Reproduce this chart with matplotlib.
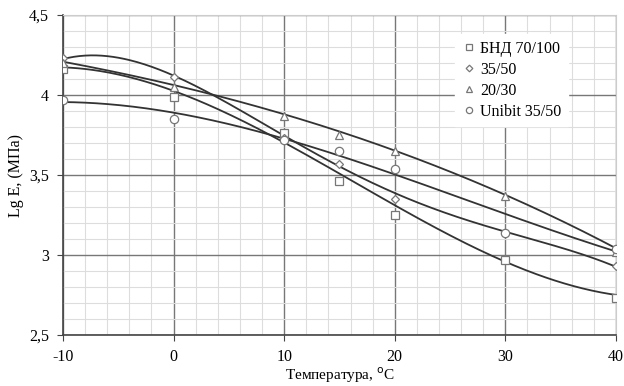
import numpy as np
import matplotlib
matplotlib.use("Agg")
from matplotlib import pyplot as plt
from matplotlib.ticker import MultipleLocator, FuncFormatter

plt.rcParams['font.family'] = ['Liberation Serif', 'DejaVu Serif']
plt.rcParams['axes.unicode_minus'] = False

# measured points
temps = [-10, 0, 10, 15, 20, 30, 40]
bnd_70_100 = [4.16, 3.99, 3.76, 3.46, 3.25, 2.97, 2.73]
b_35_50 = [4.23, 4.11, 3.73, 3.57, 3.35, 3.14, 2.93]
b_20_30 = [4.20, 4.05, 3.87, 3.75, 3.65, 3.37, 3.02]
unibit_35_50 = [3.97, 3.85, 3.72, 3.65, 3.54, 3.14, 3.04]

# trend lines
trend_temps = [-10, -5, 0, 10, 15, 20, 30, 40]
trend_bnd_70_100 = [4.16, 4.14, 4.04, 3.71, 3.48, 3.30, 2.99, 2.74]
trend_35_50 = [4.22, 4.24, 4.13, 3.72, 3.55, 3.42, 3.13, 2.93]
trend_20_30 = [4.20, 4.15, 4.07, 3.875, 3.75, 3.67, 3.38, 3.04]
trend_unibit_35_50 = [3.97, 3.93, 3.87, 3.71, 3.645, 3.55, 3.20, 3.04]
trend_order = [3, 4, 3, 3]

series = [
    ("БНД 70/100", bnd_70_100, trend_bnd_70_100, "s", 6),
    ("35/50", b_35_50, trend_35_50, "D", 4.5),
    ("20/30", b_20_30, trend_20_30, "^", 6),
    ("Unibit 35/50", unibit_35_50, trend_unibit_35_50, "o", 6),
]

fig = plt.figure(figsize=(6.24, 3.86), dpi=100)
ax = fig.add_axes([0.101, 0.132, 0.886, 0.829])

xs = np.linspace(-10, 40, 300)
for (name, vals, trend, marker, ms), order in zip(series, trend_order):
    coef = np.polyfit(trend_temps, trend, order)
    ax.plot(xs, np.polyval(coef, xs), color="#333333", lw=1.3, zorder=3)
    ax.plot(temps, vals, linestyle="none", marker=marker, ms=ms, mfc="white",
            mec="#777777", mew=0.9, label=name, zorder=4)

ax.set_xlim(-10, 40)
ax.set_ylim(2.5, 4.5)
ax.xaxis.set_major_locator(MultipleLocator(10))
ax.xaxis.set_minor_locator(MultipleLocator(2))
ax.yaxis.set_major_locator(MultipleLocator(0.5))
ax.yaxis.set_minor_locator(MultipleLocator(0.1))
ax.yaxis.set_major_formatter(FuncFormatter(lambda v, p: ("%g" % v).replace(".", ",")))

ax.grid(which="major", color="#777777", lw=1.0)
ax.grid(which="minor", color="#dddddd", lw=0.8)
ax.set_axisbelow(True)
ax.tick_params(which="major", direction="out", length=4, color="#444444", labelsize=11.5, pad=6)
ax.tick_params(which="minor", length=0)
for s in ["top", "right"]:
    ax.spines[s].set_color("#cccccc")
for s in ["left", "bottom"]:
    ax.spines[s].set_color("#444444")
    ax.spines[s].set_linewidth(1.2)

ax.set_xlabel("Температура, $^{\\mathrm{o}}$C", fontsize=11, labelpad=0)
ax.set_ylabel("Lg E, (МПа)", fontsize=11.5)

leg = ax.legend(loc="upper right", bbox_to_anchor=(0.928, 0.965), frameon=True, fontsize=11.5,
                handletextpad=0.2, handlelength=1.0, labelspacing=0.32, borderpad=0.4, markerscale=0.75)
leg.get_frame().set_edgecolor("white")
leg.get_frame().set_facecolor("white")
leg.get_frame().set_alpha(1)
leg.get_frame().set_boxstyle("square", pad=0)

fig.savefig("out.png", dpi=100)
